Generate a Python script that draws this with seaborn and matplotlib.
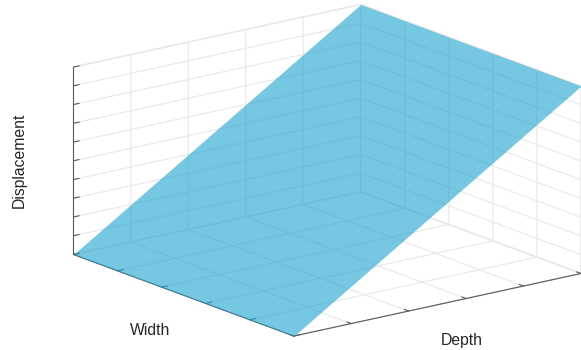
import numpy as np
import matplotlib
matplotlib.use("Agg")
import matplotlib.pyplot as plt
import seaborn as sns

# Plane of displacement over a width x depth domain
width_vals = [0, 5]
depth_vals = [0, 5]
displacement_vals = [[0, 0],
                     [10, 10]]   # rows follow depth, columns follow width

width_ticks = [0, 1, 2, 3, 4, 5]
depth_ticks = [0, 1, 2, 3, 4, 5]
disp_ticks = [0, 1, 2, 3, 4, 5, 6, 7, 8, 9, 10]

sns.set_theme(style="white")
plt.rcParams["font.family"] = ["Liberation Sans", "DejaVu Sans"]

surface_color = "#1BA3CF"
grid_color = "#e8e8e8"
axis_color = "#5a5a5a"
text_color = "#262626"

fig = plt.figure(figsize=(5.81, 3.5), dpi=100)
ax = fig.add_axes([32 / 581, 0, 1, 1], projection="3d", proj_type="ortho")
ax.view_init(elev=16.5, azim=-37.5)
ax.set_box_aspect((1, 1, 0.54), zoom=1.52)

W, D = np.meshgrid(width_vals, depth_vals)
Z = np.array(displacement_vals, dtype=float)
surf = ax.plot_surface(W, D, Z, color=surface_color, alpha=0.6, linewidth=0,
                       antialiased=True, shade=False)
surf.set_clip_on(False)

ax.set_xlim(width_vals[0], width_vals[-1])
ax.set_ylim(depth_vals[0], depth_vals[-1])
ax.set_zlim(disp_ticks[0], disp_ticks[-1])
ax.set_xticks(width_ticks)
ax.set_yticks(depth_ticks)
ax.set_zticks(disp_ticks)
ax.set_xticklabels([])
ax.set_yticklabels([])
ax.set_zticklabels([])

for axis in (ax.xaxis, ax.yaxis, ax.zaxis):
    axis.set_pane_color((1, 1, 1, 1))
    axis.pane.set_edgecolor(grid_color)
    axis.line.set_color(axis_color)
    axis.line.set_linewidth(0.8)
    axis._axinfo["grid"]["color"] = grid_color
    axis._axinfo["grid"]["linewidth"] = 0.8
    axis._axinfo["tick"]["inward_factor"] = 0.0
    axis._axinfo["tick"]["outward_factor"] = 0.25
    axis._axinfo["tick"]["linewidth"] = {True: 0.8, False: 0.5}
    axis._axinfo["tick"]["color"] = axis_color

ax.zaxis.set_ticks_position("lower")
ax.tick_params(colors=axis_color)

# Axis titles kept upright, as in the classic engineering style
fig.text(150.5 / 581, 1 - 335 / 350, "Width", fontsize=11.3, color=text_color,
         ha="center", va="baseline")
fig.text(461.5 / 581, 1 - 345 / 350, "Depth", fontsize=11.3, color=text_color,
         ha="center", va="baseline")
fig.text(19 / 581, 1 - 160 / 350, "Displacement", fontsize=11.3, color=text_color,
         ha="center", va="center", rotation=90)

fig.savefig("out.png", dpi=100)
